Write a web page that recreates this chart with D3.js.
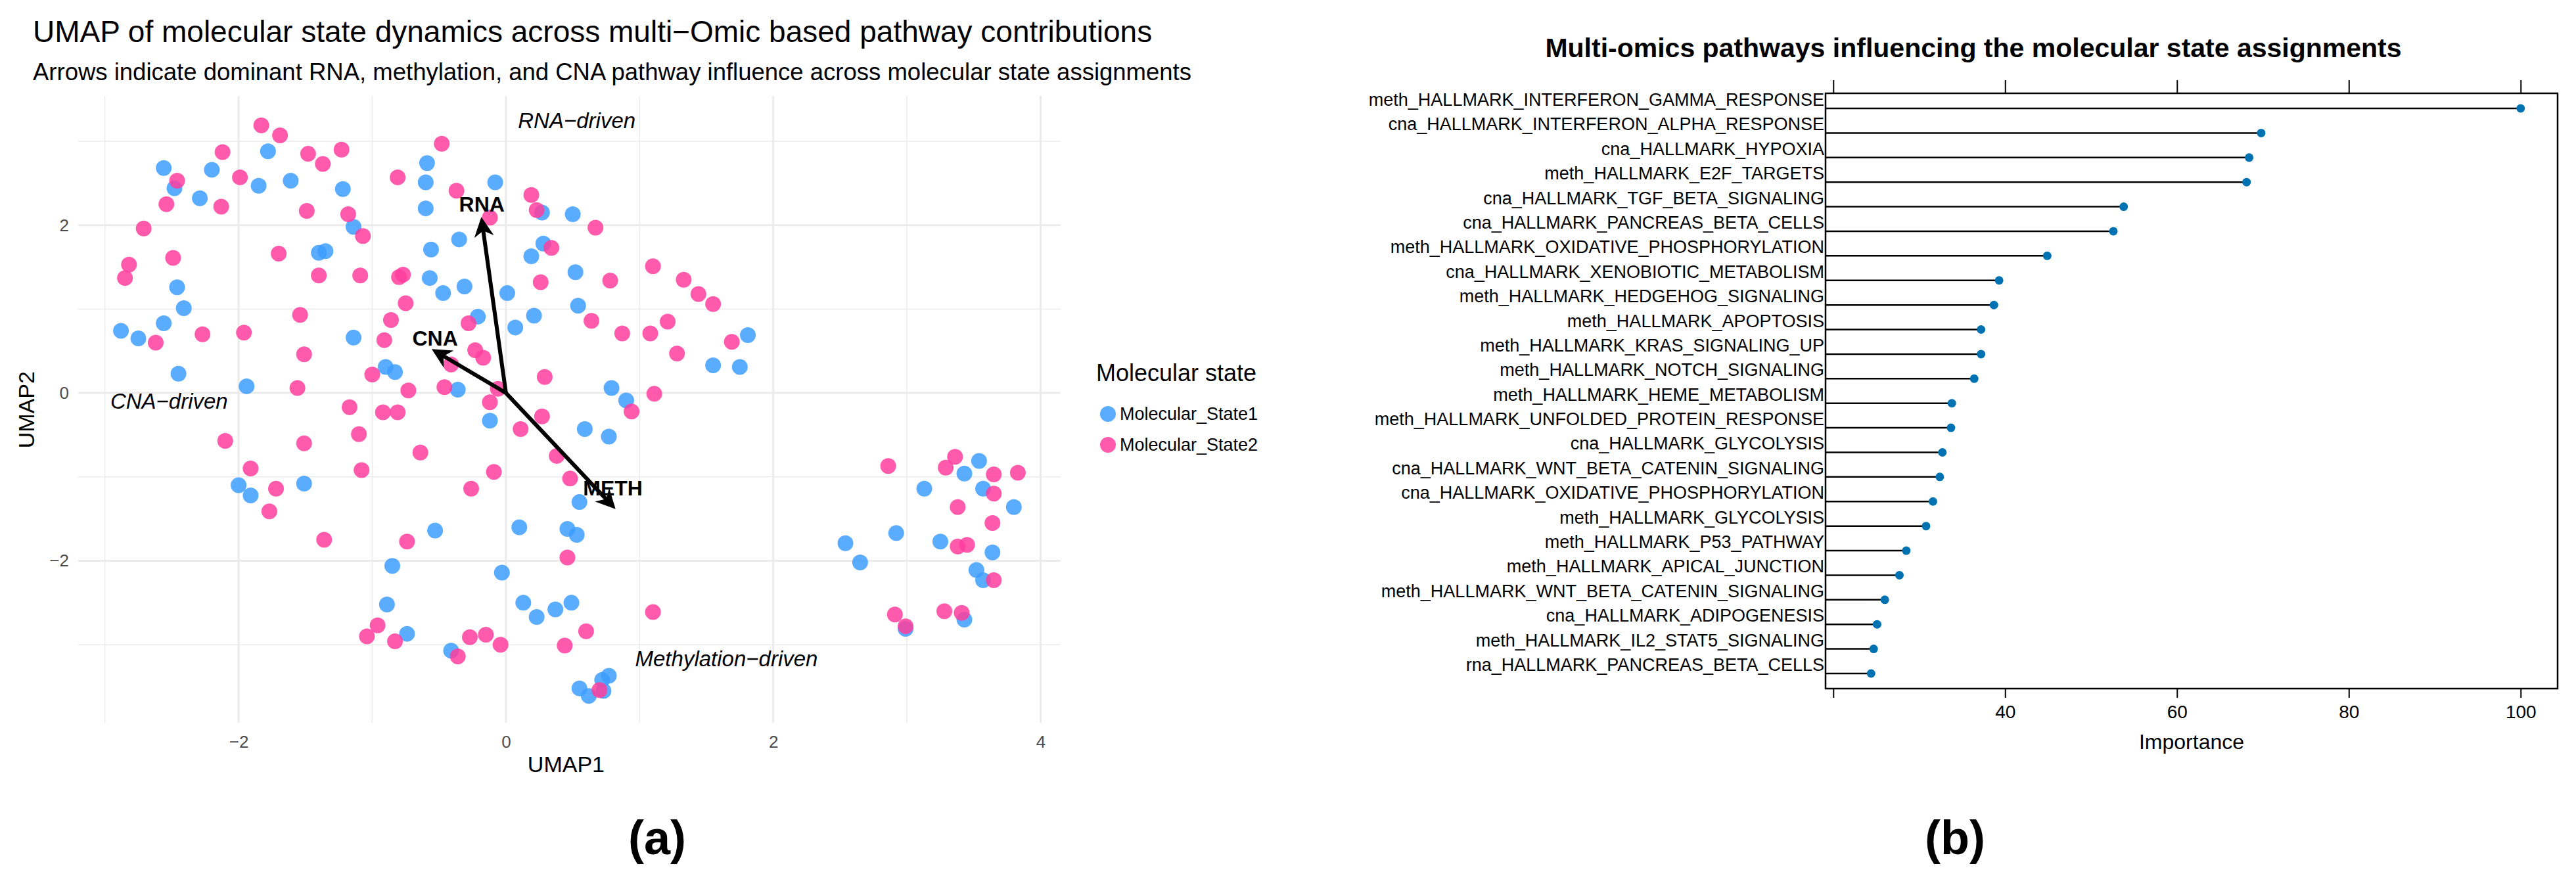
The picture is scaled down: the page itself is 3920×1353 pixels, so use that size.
<html>
<head>
<script src="https://d3js.org/d3.v7.min.js"></script>
<style>
body{margin:0;background:#fff;}
text{font-family:"Liberation Sans",Arial,sans-serif;}
</style>
</head>
<body>
<script>
var width = 3920, height = 1353;

// ---- panel (a) data ----
var state1 = [[-2.56,2.68],[-2.48,2.44],[-2.29,2.32],[-2.20,2.66],[-1.78,2.88],[-1.85,2.47],[-1.61,2.53],[-1.22,2.43],[-1.14,1.98],[-1.40,1.67],[-1.35,1.69],[-2.46,1.26],[-2.41,1.01],[-2.56,0.83],[-2.88,0.74],[-2.75,0.65],[-2.45,0.23],[-1.94,0.08],[-1.14,0.66],[-0.90,0.31],[-0.83,0.25],[-0.59,2.74],[-0.60,2.51],[-0.60,2.20],[-0.08,2.51],[-0.35,1.83],[-0.56,1.71],[-0.57,1.37],[-0.47,1.19],[-0.31,1.27],[-0.21,0.91],[0.01,1.19],[0.07,0.78],[0.21,0.92],[0.19,1.63],[0.27,2.15],[0.28,1.78],[0.50,2.13],[0.52,1.44],[0.54,1.04],[-0.36,0.04],[-0.12,-0.33],[0.59,-0.43],[0.77,-0.52],[0.79,0.06],[0.90,-0.09],[1.55,0.33],[1.75,0.31],[1.81,0.69],[-2.0,-1.10],[-1.91,-1.22],[-1.51,-1.08],[-0.53,-1.64],[-0.85,-2.06],[-0.89,-2.52],[-0.74,-2.87],[-0.41,-3.07],[-0.03,-2.14],[0.10,-1.60],[0.13,-2.50],[0.23,-2.67],[0.37,-2.58],[0.49,-2.50],[0.46,-1.62],[0.53,-1.69],[0.55,-1.30],[0.55,-3.52],[0.62,-3.61],[0.72,-3.42],[0.77,-3.37],[0.73,-3.55],[2.54,-1.79],[2.65,-2.02],[2.92,-1.67],[3.13,-1.14],[3.25,-1.77],[3.43,-0.96],[3.54,-0.81],[3.57,-1.14],[3.80,-1.36],[3.64,-1.90],[3.52,-2.11],[3.57,-2.23],[3.43,-2.70],[2.99,-2.81]];
var state2 = [[-1.83,3.19],[-1.69,3.07],[-2.12,2.87],[-2.46,2.53],[-2.54,2.25],[-2.13,2.22],[-2.71,1.96],[-1.99,2.57],[-1.48,2.85],[-1.37,2.73],[-1.23,2.90],[-1.49,2.17],[-1.18,2.13],[-1.07,1.87],[-1.70,1.66],[-2.49,1.61],[-2.82,1.53],[-2.85,1.37],[-1.40,1.40],[-1.09,1.40],[-1.54,0.93],[-2.27,0.70],[-1.96,0.72],[-2.62,0.60],[-1.51,0.46],[-0.91,0.63],[-0.86,0.87],[-0.75,1.07],[-0.80,1.38],[-0.77,1.41],[-0.81,2.57],[-0.48,2.97],[-0.37,2.41],[-0.12,2.09],[0.19,2.36],[0.23,2.18],[0.34,1.73],[0.67,1.97],[0.26,1.32],[0.78,1.34],[0.64,0.86],[0.87,0.71],[1.10,1.51],[1.33,1.35],[1.44,1.18],[1.55,1.06],[1.21,0.85],[1.08,0.71],[1.28,0.47],[1.69,0.61],[-0.28,0.83],[-0.23,0.51],[-0.17,0.42],[-0.41,0.34],[-1.0,0.22],[-0.73,0.03],[-0.46,0.07],[-0.06,0.05],[-0.12,-0.11],[0.29,0.19],[-1.56,0.06],[-1.17,-0.17],[-0.92,-0.23],[-0.81,-0.23],[-1.10,-0.49],[-2.10,-0.57],[-1.51,-0.60],[-1.08,-0.92],[-1.91,-0.90],[-1.72,-1.14],[-1.77,-1.41],[-1.36,-1.75],[-0.64,-0.71],[-0.09,-0.94],[-0.26,-1.14],[0.11,-0.43],[0.27,-0.28],[0.38,-0.75],[0.48,-1.02],[0.94,-0.22],[1.11,-0.01],[-0.74,-1.77],[0.46,-1.96],[-1.04,-2.90],[-0.96,-2.77],[-0.83,-2.96],[-0.27,-2.91],[-0.15,-2.88],[-0.04,-3.0],[0.44,-3.01],[0.60,-2.84],[-0.36,-3.14],[1.10,-2.61],[0.70,-3.54],[2.86,-0.87],[3.29,-0.89],[3.36,-0.76],[3.65,-0.97],[3.83,-0.95],[3.65,-1.20],[3.38,-1.36],[3.64,-1.55],[3.38,-1.83],[3.45,-1.81],[3.65,-2.23],[2.91,-2.64],[2.99,-2.78],[3.28,-2.60],[3.41,-2.62]];
var arrows = [
  {name:"RNA", x:-0.18, y:2.05, lx:-0.18, ly:2.25},
  {name:"CNA", x:-0.53, y:0.50, lx:-0.53, ly:0.65},
  {name:"METH", x:0.80, y:-1.35, lx:0.80, ly:-1.13}
];
var regionLabels = [
  {text:"RNA\u2212driven", x:0.53, y:3.25},
  {text:"CNA\u2212driven", x:-2.52, y:-0.10},
  {text:"Methylation\u2212driven", x:1.65, y:-3.17}
];
var stateNames = ["Molecular_State1","Molecular_State2"];
var stateColors = ["#3d9dff","#ff3d9e"];

// ---- panel (b) data ----
var pathways = ["meth_HALLMARK_INTERFERON_GAMMA_RESPONSE","cna_HALLMARK_INTERFERON_ALPHA_RESPONSE","cna_HALLMARK_HYPOXIA","meth_HALLMARK_E2F_TARGETS","cna_HALLMARK_TGF_BETA_SIGNALING","cna_HALLMARK_PANCREAS_BETA_CELLS","meth_HALLMARK_OXIDATIVE_PHOSPHORYLATION","cna_HALLMARK_XENOBIOTIC_METABOLISM","meth_HALLMARK_HEDGEHOG_SIGNALING","meth_HALLMARK_APOPTOSIS","meth_HALLMARK_KRAS_SIGNALING_UP","meth_HALLMARK_NOTCH_SIGNALING","meth_HALLMARK_HEME_METABOLISM","meth_HALLMARK_UNFOLDED_PROTEIN_RESPONSE","cna_HALLMARK_GLYCOLYSIS","cna_HALLMARK_WNT_BETA_CATENIN_SIGNALING","cna_HALLMARK_OXIDATIVE_PHOSPHORYLATION","meth_HALLMARK_GLYCOLYSIS","meth_HALLMARK_P53_PATHWAY","meth_HALLMARK_APICAL_JUNCTION","meth_HALLMARK_WNT_BETA_CATENIN_SIGNALING","cna_HALLMARK_ADIPOGENESIS","meth_HALLMARK_IL2_STAT5_SIGNALING","rna_HALLMARK_PANCREAS_BETA_CELLS"];
var importance = [100,69.8,68.4,68.1,53.8,52.6,44.9,39.3,38.7,37.2,37.2,36.4,33.8,33.7,32.7,32.4,31.6,30.8,28.5,27.7,26.0,25.1,24.7,24.4];
var impTicks = [20,40,60,80,100];

var svg = d3.select("body").append("svg")
  .attr("width", width).attr("height", height);

// ================= panel (a) =================
var x = d3.scaleLinear().domain([-3.2, 4.15]).range([119, 1614]);
var y = d3.scaleLinear().domain([-3.93, 3.54]).range([1100, 146]);

var grid = svg.append("g");
d3.range(-3, 5).forEach(function(v){
  grid.append("line").attr("x1", x(v)).attr("x2", x(v)).attr("y1", y.range()[1]).attr("y2", y.range()[0])
    .attr("stroke", "#ebebeb").attr("stroke-width", v % 2 === 0 ? 3 : 1.5);
});
d3.range(-3, 4).forEach(function(v){
  grid.append("line").attr("y1", y(v)).attr("y2", y(v)).attr("x1", x.range()[0]).attr("x2", x.range()[1])
    .attr("stroke", "#ebebeb").attr("stroke-width", v % 2 === 0 ? 3 : 1.5);
});

var xAxis = svg.append("g").attr("transform", "translate(0," + 1112 + ")")
  .call(d3.axisBottom(x).tickValues([-2,0,2,4]).tickSize(0).tickFormat(d3.format("d")));
xAxis.select(".domain").remove();
xAxis.selectAll("text").attr("font-size", 26).attr("fill", "#4d4d4d").attr("dy", "0.9em")
  .text(function(d){ return d < 0 ? "\u2212" + (-d) : d; });
var yAxis = svg.append("g").attr("transform", "translate(" + 108 + ",0)")
  .call(d3.axisLeft(y).tickValues([-2,0,2]).tickSize(0));
yAxis.select(".domain").remove();
yAxis.selectAll("text").attr("font-size", 26).attr("fill", "#4d4d4d")
  .text(function(d){ return d < 0 ? "\u2212" + (-d) : d; });

svg.append("text").attr("x", x(0.45)).attr("y", 1175).attr("text-anchor", "middle")
  .attr("font-size", 34).text("UMAP1");
svg.append("text").attr("transform", "translate(52," + y(-0.2) + ") rotate(-90)")
  .attr("text-anchor", "middle").attr("font-size", 34).text("UMAP2");

[state1, state2].forEach(function(pts, i){
  svg.append("g").selectAll("circle").data(pts).enter().append("circle")
    .attr("cx", function(d){ return x(d[0]); })
    .attr("cy", function(d){ return y(d[1]); })
    .attr("r", 12).attr("fill", stateColors[i]).attr("fill-opacity", 0.85);
});

svg.append("defs").append("marker").attr("id", "ah")
  .attr("viewBox", "0 0 10 10").attr("refX", 8).attr("refY", 5)
  .attr("markerWidth", 5).attr("markerHeight", 5).attr("orient", "auto")
  .append("path").attr("d", "M0,0 L10,5 L0,10 L3,5 z").attr("fill", "#000");

svg.append("g").selectAll("line").data(arrows).enter().append("line")
  .attr("x1", x(0)).attr("y1", y(0))
  .attr("x2", function(d){ return x(d.x); }).attr("y2", function(d){ return y(d.y); })
  .attr("stroke", "#000").attr("stroke-width", 6).attr("marker-end", "url(#ah)");
svg.append("g").selectAll("text").data(arrows).enter().append("text")
  .attr("x", function(d){ return x(d.lx); }).attr("y", function(d){ return y(d.ly); })
  .attr("text-anchor", "middle").attr("dy", "0.35em").attr("font-size", 32).attr("font-weight", "bold")
  .text(function(d){ return d.name; });
svg.append("g").selectAll("text").data(regionLabels).enter().append("text")
  .attr("x", function(d){ return x(d.x); }).attr("y", function(d){ return y(d.y); })
  .attr("text-anchor", "middle").attr("dy", "0.35em").attr("font-size", 33).attr("font-style", "italic")
  .text(function(d){ return d.text; });

svg.append("text").attr("x", 50).attr("y", 64).attr("font-size", 46)
  .text("UMAP of molecular state dynamics across multi\u2212Omic based pathway contributions");
svg.append("text").attr("x", 50).attr("y", 122).attr("font-size", 36.5)
  .text("Arrows indicate dominant RNA, methylation, and CNA pathway influence across molecular state assignments");

var leg = svg.append("g").attr("transform", "translate(1668,580)");
leg.append("text").attr("x", 0).attr("y", 0).attr("font-size", 36).text("Molecular state");
stateNames.forEach(function(n, i){
  leg.append("circle").attr("cx", 18).attr("cy", 50 + i * 47).attr("r", 12)
    .attr("fill", stateColors[i]).attr("fill-opacity", 0.85);
  leg.append("text").attr("x", 36).attr("y", 50 + i * 47).attr("dy", "0.35em")
    .attr("font-size", 27).text(n);
});

// ================= panel (b) =================
var bx = d3.scaleLinear().domain([19.1, 104.3]).range([2778, 3892]);
var by = d3.scalePoint().domain(pathways).range([165, 1025]);
var boxTop = 142, boxBottom = 1048;

svg.append("rect").attr("x", bx.range()[0]).attr("y", boxTop)
  .attr("width", bx.range()[1] - bx.range()[0]).attr("height", boxBottom - boxTop)
  .attr("fill", "none").attr("stroke", "#000").attr("stroke-width", 2.5);

var topAx = svg.append("g").attr("transform", "translate(0," + boxTop + ")")
  .call(d3.axisTop(bx).tickValues(impTicks).tickSize(20).tickFormat(""));
topAx.select(".domain").remove();
topAx.selectAll("line").attr("stroke-width", 2);
var botAx = svg.append("g").attr("transform", "translate(0," + boxBottom + ")")
  .call(d3.axisBottom(bx).tickValues(impTicks).tickSize(14)
    .tickFormat(function(d){ return d === 20 ? "" : d; }));
botAx.select(".domain").remove();
botAx.selectAll("line").attr("stroke-width", 2);
botAx.selectAll("text").attr("font-size", 28).attr("fill", "#000").attr("dy", "1em");

var rows = svg.append("g").selectAll("g").data(pathways).enter().append("g");
rows.append("line")
  .attr("x1", bx.range()[0]).attr("x2", function(d, i){ return bx(importance[i]); })
  .attr("y1", function(d){ return by(d); }).attr("y2", function(d){ return by(d); })
  .attr("stroke", "#000").attr("stroke-width", 2.5);
rows.append("circle")
  .attr("cx", function(d, i){ return bx(importance[i]); }).attr("cy", function(d){ return by(d); })
  .attr("r", 6.5).attr("fill", "#0072b2");
rows.append("text")
  .attr("x", bx.range()[0] - 2).attr("y", function(d){ return by(d) - 4; })
  .attr("text-anchor", "end").attr("font-size", 27).text(function(d){ return d; });

svg.append("text").attr("x", 3335).attr("y", 1140).attr("text-anchor", "middle")
  .attr("font-size", 32).text("Importance");
svg.append("text").attr("x", 3003).attr("y", 87).attr("text-anchor", "middle")
  .attr("font-size", 41).attr("font-weight", "bold")
  .text("Multi-omics pathways influencing the molecular state assignments");

// captions
svg.append("text").attr("x", 1000).attr("y", 1300).attr("text-anchor", "middle")
  .attr("font-family", "Liberation Serif, serif").attr("font-size", 72).attr("font-weight", "bold").text("(a)");
svg.append("text").attr("x", 2975).attr("y", 1300).attr("text-anchor", "middle")
  .attr("font-family", "Liberation Serif, serif").attr("font-size", 72).attr("font-weight", "bold").text("(b)");
</script>
</body>
</html>
